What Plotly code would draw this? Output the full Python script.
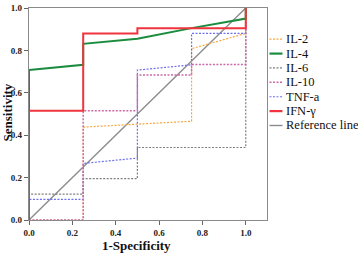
import plotly.graph_objects as go

# ---- data ----
series_names = ["IL-2", "IL-4", "IL-6", "IL-10", "TNF-a", "IFN-γ", "Reference line"]

il2_x = [0, 0.25, 0.25, 0.75, 0.75, 1.0, 1.0]
il2_y = [0, 0, 0.438, 0.466, 0.808, 0.88, 1.0]

il4_x = [0, 0, 0.25, 0.25, 0.5, 0.75, 1.0, 1.0]
il4_y = [0, 0.707, 0.732, 0.831, 0.855, 0.905, 0.95, 1.0]

il6_x = [0, 0, 0.25, 0.25, 0.5, 0.5, 1.0, 1.0]
il6_y = [0, 0.122, 0.122, 0.195, 0.195, 0.342, 0.342, 1.0]

il10_x = [0, 0.25, 0.25, 0.5, 0.5, 0.75, 0.75, 1.0, 1.0]
il10_y = [0, 0, 0.515, 0.515, 0.684, 0.684, 0.734, 0.734, 1.0]

tnf_x = [0, 0, 0.25, 0.25, 0.5, 0.5, 0.75, 0.75, 1.0, 1.0]
tnf_y = [0, 0.097, 0.097, 0.267, 0.292, 0.707, 0.732, 0.88, 0.88, 1.0]

ifn_x = [0, 0, 0.25, 0.25, 0.5, 0.5, 1.0, 1.0]
ifn_y = [0, 0.515, 0.515, 0.88, 0.88, 0.904, 0.904, 1.0]

ref_x = [0, 1]
ref_y = [0, 1]

tick_vals = [0, 0.2, 0.4, 0.6, 0.8, 1.0]
tick_text = ["0.0", "0.2", "0.4", "0.6", "0.8", "1.0"]

# ---- styles ----
colors = ["#F7A640", "#1B8C3E", "#7F7F7F", "#CC6AA6", "#6E6EF0", "#F0343F", "#8C8C8C"]
dotpat = "2px,1.5px"
dashes = [dotpat, "solid", dotpat, dotpat, dotpat, "solid", "solid"]
widths = [1.2, 2, 1.2, 1.5, 1.2, 2, 1.4]

xs = [il2_x, il4_x, il6_x, il10_x, tnf_x, ifn_x, ref_x]
ys = [il2_y, il4_y, il6_y, il10_y, tnf_y, ifn_y, ref_y]

W, H = 358, 253
L, R, T, B = 29, 267.5, 3.3, 220  # pixel bounds of plot area

fig = go.Figure()
draw_order = [6, 0, 2, 4, 3, 1, 5]
for i in draw_order:
    fig.add_trace(go.Scatter(x=xs[i], y=ys[i], mode="lines", name=series_names[i],
                             line=dict(color=colors[i], dash=dashes[i], width=widths[i]),
                             showlegend=False, hoverinfo="skip"))

serif = "Liberation Serif, Times New Roman, serif"

def px2paper(px, py):
    return (px - L) / (R - L), (B - py) / (B - T)

# manual legend
shapes = []
annotations = []
row0, step = 35.2, 14.7
for k, name in enumerate(series_names):
    py = row0 + k * step
    x0, yy = px2paper(270, py)
    x1, _ = px2paper(283, py)
    shapes.append(dict(type="line", xref="paper", yref="paper", x0=x0, x1=x1, y0=yy, y1=yy,
                       line=dict(color=colors[k], dash=dashes[k], width=widths[k] if k not in (1, 5) else 2.2)))
    tx, _ = px2paper(284.5, py)
    annotations.append(dict(xref="paper", yref="paper", x=tx, y=yy, xanchor="left", yanchor="middle",
                            text=name, showarrow=False, font=dict(family=serif, size=12.5, color="#111")))

# axis titles
ax, ay = px2paper(137, 246)
annotations.append(dict(xref="paper", yref="paper", x=ax, y=ay, xanchor="center", yanchor="middle",
                        text="<b>1-Specificity</b>", showarrow=False,
                        font=dict(family=serif, size=13, color="#111")))
bx, by = px2paper(7, 110)
annotations.append(dict(xref="paper", yref="paper", x=bx, y=by, xanchor="center", yanchor="middle",
                        text="<b>Sensitivity</b>", showarrow=False, textangle=-90,
                        font=dict(family=serif, size=13, color="#111")))

axis_common = dict(showgrid=False, zeroline=False, showline=True, linecolor="#8a8a8a", linewidth=1.3,
                   mirror=True, ticks="outside", ticklen=4, tickcolor="#666", tickwidth=1,
                   tickvals=tick_vals, ticktext=["<b>%s</b>" % t for t in tick_text],
                   ticklabeloverflow="allow",
                   tickfont=dict(family=serif, size=9, color="#222"))

fig.update_layout(
    width=W, height=H,
    margin=dict(l=L, r=W - R, t=T, b=H - B, pad=0),
    paper_bgcolor="white", plot_bgcolor="white",
    xaxis=dict(range=[0, 1.098], **axis_common),
    yaxis=dict(range=[0, 1.0], **axis_common),
    shapes=shapes, annotations=annotations,
    showlegend=False,
)

fig.write_html("out.html", config={"displayModeBar": False},
               post_script="document.body.style.margin='0';document.body.style.overflow='hidden';")
